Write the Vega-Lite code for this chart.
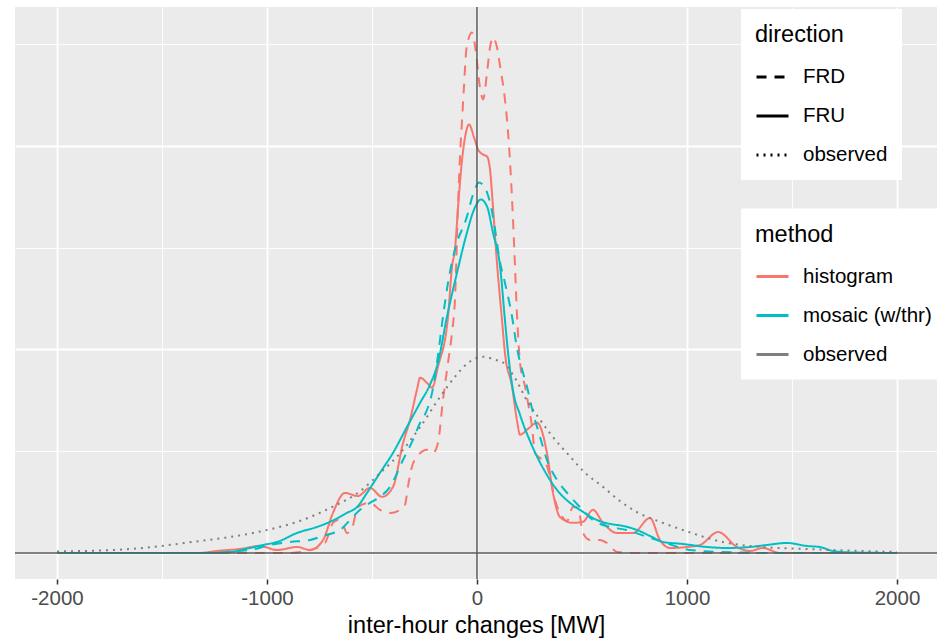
{
  "$schema": "https://vega.github.io/schema/vega-lite/v6.json",
  "width": 922,
  "height": 572,
  "autosize": {"type": "none"},
  "padding": {"left": 15, "top": 7, "right": 0, "bottom": 61},
  "background": "white",
  "data": {"values": [
    {"change": -2000, "density": 0, "method": "histogram", "direction": "FRU"},
    {"change": -1320, "density": 0, "method": "histogram", "direction": "FRU"},
    {"change": -1240, "density": 0.0000098, "method": "histogram", "direction": "FRU"},
    {"change": -1130, "density": 0.0000197, "method": "histogram", "direction": "FRU"},
    {"change": -1033, "density": 0.0000344, "method": "histogram", "direction": "FRU"},
    {"change": -952, "density": 0.0000148, "method": "histogram", "direction": "FRU"},
    {"change": -857, "density": 0.0000295, "method": "histogram", "direction": "FRU"},
    {"change": -795, "density": 0.0000148, "method": "histogram", "direction": "FRU"},
    {"change": -733, "density": 0.000064, "method": "histogram", "direction": "FRU"},
    {"change": -686, "density": 0.000197, "method": "histogram", "direction": "FRU"},
    {"change": -629, "density": 0.000295, "method": "histogram", "direction": "FRU"},
    {"change": -567, "density": 0.00028, "method": "histogram", "direction": "FRU"},
    {"change": -510, "density": 0.00032, "method": "histogram", "direction": "FRU"},
    {"change": -452, "density": 0.000276, "method": "histogram", "direction": "FRU"},
    {"change": -400, "density": 0.000325, "method": "histogram", "direction": "FRU"},
    {"change": -352, "density": 0.000541, "method": "histogram", "direction": "FRU"},
    {"change": -319, "density": 0.000654, "method": "histogram", "direction": "FRU"},
    {"change": -286, "density": 0.000802, "method": "histogram", "direction": "FRU"},
    {"change": -271, "density": 0.000861, "method": "histogram", "direction": "FRU"},
    {"change": -238, "density": 0.000836, "method": "histogram", "direction": "FRU"},
    {"change": -214, "density": 0.000812, "method": "histogram", "direction": "FRU"},
    {"change": -186, "density": 0.000915, "method": "histogram", "direction": "FRU"},
    {"change": -138, "density": 0.001161, "method": "histogram", "direction": "FRU"},
    {"change": -119, "density": 0.001407, "method": "histogram", "direction": "FRU"},
    {"change": -105, "density": 0.001491, "method": "histogram", "direction": "FRU"},
    {"change": -90, "density": 0.001702, "method": "histogram", "direction": "FRU"},
    {"change": -71, "density": 0.001934, "method": "histogram", "direction": "FRU"},
    {"change": -57, "density": 0.002042, "method": "histogram", "direction": "FRU"},
    {"change": -38, "density": 0.002106, "method": "histogram", "direction": "FRU"},
    {"change": -14, "density": 0.002042, "method": "histogram", "direction": "FRU"},
    {"change": 5, "density": 0.001983, "method": "histogram", "direction": "FRU"},
    {"change": 29, "density": 0.001958, "method": "histogram", "direction": "FRU"},
    {"change": 48, "density": 0.001948, "method": "histogram", "direction": "FRU"},
    {"change": 62, "density": 0.001884, "method": "histogram", "direction": "FRU"},
    {"change": 76, "density": 0.001702, "method": "histogram", "direction": "FRU"},
    {"change": 95, "density": 0.001427, "method": "histogram", "direction": "FRU"},
    {"change": 119, "density": 0.001146, "method": "histogram", "direction": "FRU"},
    {"change": 133, "density": 0.000984, "method": "histogram", "direction": "FRU"},
    {"change": 167, "density": 0.000817, "method": "histogram", "direction": "FRU"},
    {"change": 190, "density": 0.000654, "method": "histogram", "direction": "FRU"},
    {"change": 205, "density": 0.000581, "method": "histogram", "direction": "FRU"},
    {"change": 243, "density": 0.00061, "method": "histogram", "direction": "FRU"},
    {"change": 286, "density": 0.00064, "method": "histogram", "direction": "FRU"},
    {"change": 333, "density": 0.000492, "method": "histogram", "direction": "FRU"},
    {"change": 362, "density": 0.000295, "method": "histogram", "direction": "FRU"},
    {"change": 395, "density": 0.000177, "method": "histogram", "direction": "FRU"},
    {"change": 457, "density": 0.000148, "method": "histogram", "direction": "FRU"},
    {"change": 505, "density": 0.000153, "method": "histogram", "direction": "FRU"},
    {"change": 552, "density": 0.000212, "method": "histogram", "direction": "FRU"},
    {"change": 600, "density": 0.000148, "method": "histogram", "direction": "FRU"},
    {"change": 667, "density": 0.0000984, "method": "histogram", "direction": "FRU"},
    {"change": 743, "density": 0.0000984, "method": "histogram", "direction": "FRU"},
    {"change": 824, "density": 0.000172, "method": "histogram", "direction": "FRU"},
    {"change": 871, "density": 0.000064, "method": "histogram", "direction": "FRU"},
    {"change": 919, "density": 0.0000246, "method": "histogram", "direction": "FRU"},
    {"change": 1000, "density": 0.0000295, "method": "histogram", "direction": "FRU"},
    {"change": 1062, "density": 0.0000394, "method": "histogram", "direction": "FRU"},
    {"change": 1148, "density": 0.000103, "method": "histogram", "direction": "FRU"},
    {"change": 1238, "density": 0.0000295, "method": "histogram", "direction": "FRU"},
    {"change": 1300, "density": 0.0000098, "method": "histogram", "direction": "FRU"},
    {"change": 1362, "density": 0.0000246, "method": "histogram", "direction": "FRU"},
    {"change": 1443, "density": 0, "method": "histogram", "direction": "FRU"},
    {"change": 2000, "density": 0, "method": "histogram", "direction": "FRU"},

    {"change": -2000, "density": 0, "method": "histogram", "direction": "FRD"},
    {"change": -890, "density": 0, "method": "histogram", "direction": "FRD"},
    {"change": -795, "density": 0.0000148, "method": "histogram", "direction": "FRD"},
    {"change": -724, "density": 0.0000492, "method": "histogram", "direction": "FRD"},
    {"change": -686, "density": 0.000148, "method": "histogram", "direction": "FRD"},
    {"change": -662, "density": 0.000162, "method": "histogram", "direction": "FRD"},
    {"change": -638, "density": 0.000138, "method": "histogram", "direction": "FRD"},
    {"change": -619, "density": 0.0000984, "method": "histogram", "direction": "FRD"},
    {"change": -595, "density": 0.000123, "method": "histogram", "direction": "FRD"},
    {"change": -567, "density": 0.000226, "method": "histogram", "direction": "FRD"},
    {"change": -510, "density": 0.000246, "method": "histogram", "direction": "FRD"},
    {"change": -462, "density": 0.000212, "method": "histogram", "direction": "FRD"},
    {"change": -414, "density": 0.000197, "method": "histogram", "direction": "FRD"},
    {"change": -367, "density": 0.000212, "method": "histogram", "direction": "FRD"},
    {"change": -343, "density": 0.000236, "method": "histogram", "direction": "FRD"},
    {"change": -329, "density": 0.000325, "method": "histogram", "direction": "FRD"},
    {"change": -310, "density": 0.000423, "method": "histogram", "direction": "FRD"},
    {"change": -286, "density": 0.000472, "method": "histogram", "direction": "FRD"},
    {"change": -238, "density": 0.000507, "method": "histogram", "direction": "FRD"},
    {"change": -210, "density": 0.000492, "method": "histogram", "direction": "FRD"},
    {"change": -186, "density": 0.000541, "method": "histogram", "direction": "FRD"},
    {"change": -162, "density": 0.000753, "method": "histogram", "direction": "FRD"},
    {"change": -138, "density": 0.000935, "method": "histogram", "direction": "FRD"},
    {"change": -119, "density": 0.001082, "method": "histogram", "direction": "FRD"},
    {"change": -105, "density": 0.001245, "method": "histogram", "direction": "FRD"},
    {"change": -90, "density": 0.001722, "method": "histogram", "direction": "FRD"},
    {"change": -80, "density": 0.001968, "method": "histogram", "direction": "FRD"},
    {"change": -71, "density": 0.00213, "method": "histogram", "direction": "FRD"},
    {"change": -62, "density": 0.002293, "method": "histogram", "direction": "FRD"},
    {"change": -52, "density": 0.00246, "method": "histogram", "direction": "FRD"},
    {"change": -38, "density": 0.002534, "method": "histogram", "direction": "FRD"},
    {"change": -24, "density": 0.002558, "method": "histogram", "direction": "FRD"},
    {"change": -5, "density": 0.00246, "method": "histogram", "direction": "FRD"},
    {"change": 14, "density": 0.002288, "method": "histogram", "direction": "FRD"},
    {"change": 29, "density": 0.002229, "method": "histogram", "direction": "FRD"},
    {"change": 48, "density": 0.002362, "method": "histogram", "direction": "FRD"},
    {"change": 62, "density": 0.002485, "method": "histogram", "direction": "FRD"},
    {"change": 76, "density": 0.002534, "method": "histogram", "direction": "FRD"},
    {"change": 95, "density": 0.002485, "method": "histogram", "direction": "FRD"},
    {"change": 110, "density": 0.002391, "method": "histogram", "direction": "FRD"},
    {"change": 133, "density": 0.002229, "method": "histogram", "direction": "FRD"},
    {"change": 148, "density": 0.002066, "method": "histogram", "direction": "FRD"},
    {"change": 167, "density": 0.001737, "method": "histogram", "direction": "FRD"},
    {"change": 181, "density": 0.001407, "method": "histogram", "direction": "FRD"},
    {"change": 190, "density": 0.001181, "method": "histogram", "direction": "FRD"},
    {"change": 205, "density": 0.000935, "method": "histogram", "direction": "FRD"},
    {"change": 229, "density": 0.000817, "method": "histogram", "direction": "FRD"},
    {"change": 243, "density": 0.000738, "method": "histogram", "direction": "FRD"},
    {"change": 262, "density": 0.00062, "method": "histogram", "direction": "FRD"},
    {"change": 276, "density": 0.000492, "method": "histogram", "direction": "FRD"},
    {"change": 300, "density": 0.000467, "method": "histogram", "direction": "FRD"},
    {"change": 324, "density": 0.000448, "method": "histogram", "direction": "FRD"},
    {"change": 348, "density": 0.000374, "method": "histogram", "direction": "FRD"},
    {"change": 371, "density": 0.000261, "method": "histogram", "direction": "FRD"},
    {"change": 395, "density": 0.000197, "method": "histogram", "direction": "FRD"},
    {"change": 429, "density": 0.000157, "method": "histogram", "direction": "FRD"},
    {"change": 457, "density": 0.000226, "method": "histogram", "direction": "FRD"},
    {"change": 481, "density": 0.000221, "method": "histogram", "direction": "FRD"},
    {"change": 505, "density": 0.0000984, "method": "histogram", "direction": "FRD"},
    {"change": 538, "density": 0.000064, "method": "histogram", "direction": "FRD"},
    {"change": 586, "density": 0.000064, "method": "histogram", "direction": "FRD"},
    {"change": 619, "density": 0.0000492, "method": "histogram", "direction": "FRD"},
    {"change": 667, "density": 0.0000049, "method": "histogram", "direction": "FRD"},
    {"change": 729, "density": 0, "method": "histogram", "direction": "FRD"},
    {"change": 2000, "density": 0, "method": "histogram", "direction": "FRD"},

    {"change": -2000, "density": 0, "method": "mosaic (w/thr)", "direction": "FRD"},
    {"change": -1320, "density": 0, "method": "mosaic (w/thr)", "direction": "FRD"},
    {"change": -1080, "density": 0.0000148, "method": "mosaic (w/thr)", "direction": "FRD"},
    {"change": -986, "density": 0.0000394, "method": "mosaic (w/thr)", "direction": "FRD"},
    {"change": -890, "density": 0.0000541, "method": "mosaic (w/thr)", "direction": "FRD"},
    {"change": -795, "density": 0.000064, "method": "mosaic (w/thr)", "direction": "FRD"},
    {"change": -733, "density": 0.0000836, "method": "mosaic (w/thr)", "direction": "FRD"},
    {"change": -700, "density": 0.0000935, "method": "mosaic (w/thr)", "direction": "FRD"},
    {"change": -652, "density": 0.000113, "method": "mosaic (w/thr)", "direction": "FRD"},
    {"change": -605, "density": 0.000162, "method": "mosaic (w/thr)", "direction": "FRD"},
    {"change": -557, "density": 0.000212, "method": "mosaic (w/thr)", "direction": "FRD"},
    {"change": -510, "density": 0.000246, "method": "mosaic (w/thr)", "direction": "FRD"},
    {"change": -462, "density": 0.000276, "method": "mosaic (w/thr)", "direction": "FRD"},
    {"change": -414, "density": 0.000325, "method": "mosaic (w/thr)", "direction": "FRD"},
    {"change": -352, "density": 0.000458, "method": "mosaic (w/thr)", "direction": "FRD"},
    {"change": -305, "density": 0.000556, "method": "mosaic (w/thr)", "direction": "FRD"},
    {"change": -271, "density": 0.00064, "method": "mosaic (w/thr)", "direction": "FRD"},
    {"change": -238, "density": 0.000704, "method": "mosaic (w/thr)", "direction": "FRD"},
    {"change": -214, "density": 0.000787, "method": "mosaic (w/thr)", "direction": "FRD"},
    {"change": -186, "density": 0.000969, "method": "mosaic (w/thr)", "direction": "FRD"},
    {"change": -162, "density": 0.001161, "method": "mosaic (w/thr)", "direction": "FRD"},
    {"change": -138, "density": 0.001328, "method": "mosaic (w/thr)", "direction": "FRD"},
    {"change": -105, "density": 0.001491, "method": "mosaic (w/thr)", "direction": "FRD"},
    {"change": -48, "density": 0.001653, "method": "mosaic (w/thr)", "direction": "FRD"},
    {"change": -19, "density": 0.001761, "method": "mosaic (w/thr)", "direction": "FRD"},
    {"change": 10, "density": 0.00182, "method": "mosaic (w/thr)", "direction": "FRD"},
    {"change": 48, "density": 0.001771, "method": "mosaic (w/thr)", "direction": "FRD"},
    {"change": 76, "density": 0.001653, "method": "mosaic (w/thr)", "direction": "FRD"},
    {"change": 110, "density": 0.001427, "method": "mosaic (w/thr)", "direction": "FRD"},
    {"change": 133, "density": 0.001328, "method": "mosaic (w/thr)", "direction": "FRD"},
    {"change": 167, "density": 0.001161, "method": "mosaic (w/thr)", "direction": "FRD"},
    {"change": 190, "density": 0.001009, "method": "mosaic (w/thr)", "direction": "FRD"},
    {"change": 219, "density": 0.000886, "method": "mosaic (w/thr)", "direction": "FRD"},
    {"change": 238, "density": 0.000817, "method": "mosaic (w/thr)", "direction": "FRD"},
    {"change": 267, "density": 0.000689, "method": "mosaic (w/thr)", "direction": "FRD"},
    {"change": 300, "density": 0.000571, "method": "mosaic (w/thr)", "direction": "FRD"},
    {"change": 333, "density": 0.000458, "method": "mosaic (w/thr)", "direction": "FRD"},
    {"change": 381, "density": 0.000359, "method": "mosaic (w/thr)", "direction": "FRD"},
    {"change": 429, "density": 0.000295, "method": "mosaic (w/thr)", "direction": "FRD"},
    {"change": 490, "density": 0.000226, "method": "mosaic (w/thr)", "direction": "FRD"},
    {"change": 552, "density": 0.000162, "method": "mosaic (w/thr)", "direction": "FRD"},
    {"change": 633, "density": 0.000128, "method": "mosaic (w/thr)", "direction": "FRD"},
    {"change": 714, "density": 0.000113, "method": "mosaic (w/thr)", "direction": "FRD"},
    {"change": 810, "density": 0.0000787, "method": "mosaic (w/thr)", "direction": "FRD"},
    {"change": 886, "density": 0.0000541, "method": "mosaic (w/thr)", "direction": "FRD"},
    {"change": 1014, "density": 0.0000148, "method": "mosaic (w/thr)", "direction": "FRD"},
    {"change": 1171, "density": 0.0000049, "method": "mosaic (w/thr)", "direction": "FRD"},
    {"change": 1400, "density": 0, "method": "mosaic (w/thr)", "direction": "FRD"},
    {"change": 2000, "density": 0, "method": "mosaic (w/thr)", "direction": "FRD"},

    {"change": -2000, "density": 0, "method": "mosaic (w/thr)", "direction": "FRU"},
    {"change": -1270, "density": 0, "method": "mosaic (w/thr)", "direction": "FRU"},
    {"change": -1176, "density": 0.0000049, "method": "mosaic (w/thr)", "direction": "FRU"},
    {"change": -1081, "density": 0.0000246, "method": "mosaic (w/thr)", "direction": "FRU"},
    {"change": -1019, "density": 0.0000394, "method": "mosaic (w/thr)", "direction": "FRU"},
    {"change": -952, "density": 0.0000541, "method": "mosaic (w/thr)", "direction": "FRU"},
    {"change": -857, "density": 0.0000984, "method": "mosaic (w/thr)", "direction": "FRU"},
    {"change": -762, "density": 0.000128, "method": "mosaic (w/thr)", "direction": "FRU"},
    {"change": -700, "density": 0.000153, "method": "mosaic (w/thr)", "direction": "FRU"},
    {"change": -619, "density": 0.000197, "method": "mosaic (w/thr)", "direction": "FRU"},
    {"change": -571, "density": 0.000226, "method": "mosaic (w/thr)", "direction": "FRU"},
    {"change": -524, "density": 0.000295, "method": "mosaic (w/thr)", "direction": "FRU"},
    {"change": -462, "density": 0.000394, "method": "mosaic (w/thr)", "direction": "FRU"},
    {"change": -400, "density": 0.000492, "method": "mosaic (w/thr)", "direction": "FRU"},
    {"change": -333, "density": 0.00062, "method": "mosaic (w/thr)", "direction": "FRU"},
    {"change": -271, "density": 0.000738, "method": "mosaic (w/thr)", "direction": "FRU"},
    {"change": -224, "density": 0.000827, "method": "mosaic (w/thr)", "direction": "FRU"},
    {"change": -186, "density": 0.000935, "method": "mosaic (w/thr)", "direction": "FRU"},
    {"change": -143, "density": 0.001161, "method": "mosaic (w/thr)", "direction": "FRU"},
    {"change": -95, "density": 0.001378, "method": "mosaic (w/thr)", "direction": "FRU"},
    {"change": -48, "density": 0.001574, "method": "mosaic (w/thr)", "direction": "FRU"},
    {"change": -14, "density": 0.001688, "method": "mosaic (w/thr)", "direction": "FRU"},
    {"change": 19, "density": 0.001737, "method": "mosaic (w/thr)", "direction": "FRU"},
    {"change": 48, "density": 0.001702, "method": "mosaic (w/thr)", "direction": "FRU"},
    {"change": 76, "density": 0.001574, "method": "mosaic (w/thr)", "direction": "FRU"},
    {"change": 110, "density": 0.001407, "method": "mosaic (w/thr)", "direction": "FRU"},
    {"change": 133, "density": 0.001146, "method": "mosaic (w/thr)", "direction": "FRU"},
    {"change": 148, "density": 0.000984, "method": "mosaic (w/thr)", "direction": "FRU"},
    {"change": 171, "density": 0.000802, "method": "mosaic (w/thr)", "direction": "FRU"},
    {"change": 205, "density": 0.000679, "method": "mosaic (w/thr)", "direction": "FRU"},
    {"change": 252, "density": 0.000551, "method": "mosaic (w/thr)", "direction": "FRU"},
    {"change": 314, "density": 0.000418, "method": "mosaic (w/thr)", "direction": "FRU"},
    {"change": 381, "density": 0.00031, "method": "mosaic (w/thr)", "direction": "FRU"},
    {"change": 443, "density": 0.000246, "method": "mosaic (w/thr)", "direction": "FRU"},
    {"change": 505, "density": 0.000202, "method": "mosaic (w/thr)", "direction": "FRU"},
    {"change": 571, "density": 0.000162, "method": "mosaic (w/thr)", "direction": "FRU"},
    {"change": 633, "density": 0.000143, "method": "mosaic (w/thr)", "direction": "FRU"},
    {"change": 695, "density": 0.000133, "method": "mosaic (w/thr)", "direction": "FRU"},
    {"change": 762, "density": 0.000113, "method": "mosaic (w/thr)", "direction": "FRU"},
    {"change": 824, "density": 0.0000836, "method": "mosaic (w/thr)", "direction": "FRU"},
    {"change": 886, "density": 0.0000541, "method": "mosaic (w/thr)", "direction": "FRU"},
    {"change": 981, "density": 0.0000443, "method": "mosaic (w/thr)", "direction": "FRU"},
    {"change": 1095, "density": 0.0000295, "method": "mosaic (w/thr)", "direction": "FRU"},
    {"change": 1190, "density": 0.0000246, "method": "mosaic (w/thr)", "direction": "FRU"},
    {"change": 1300, "density": 0.0000295, "method": "mosaic (w/thr)", "direction": "FRU"},
    {"change": 1381, "density": 0.0000394, "method": "mosaic (w/thr)", "direction": "FRU"},
    {"change": 1476, "density": 0.0000492, "method": "mosaic (w/thr)", "direction": "FRU"},
    {"change": 1571, "density": 0.0000344, "method": "mosaic (w/thr)", "direction": "FRU"},
    {"change": 1633, "density": 0.0000295, "method": "mosaic (w/thr)", "direction": "FRU"},
    {"change": 1695, "density": 0.0000098, "method": "mosaic (w/thr)", "direction": "FRU"},
    {"change": 1790, "density": 0.0000025, "method": "mosaic (w/thr)", "direction": "FRU"},
    {"change": 2000, "density": 0, "method": "mosaic (w/thr)", "direction": "FRU"},

    {"change": -2000, "density": 0.0000074, "method": "observed", "direction": "observed"},
    {"change": -1650, "density": 0.0000197, "method": "observed", "direction": "observed"},
    {"change": -1320, "density": 0.000059, "method": "observed", "direction": "observed"},
    {"change": -1175, "density": 0.0000787, "method": "observed", "direction": "observed"},
    {"change": -1000, "density": 0.000113, "method": "observed", "direction": "observed"},
    {"change": -845, "density": 0.000157, "method": "observed", "direction": "observed"},
    {"change": -700, "density": 0.000221, "method": "observed", "direction": "observed"},
    {"change": -555, "density": 0.000305, "method": "observed", "direction": "observed"},
    {"change": -460, "density": 0.000394, "method": "observed", "direction": "observed"},
    {"change": -365, "density": 0.000492, "method": "observed", "direction": "observed"},
    {"change": -270, "density": 0.00062, "method": "observed", "direction": "observed"},
    {"change": -175, "density": 0.000768, "method": "observed", "direction": "observed"},
    {"change": -105, "density": 0.000866, "method": "observed", "direction": "observed"},
    {"change": -35, "density": 0.00094, "method": "observed", "direction": "observed"},
    {"change": 30, "density": 0.000964, "method": "observed", "direction": "observed"},
    {"change": 85, "density": 0.00095, "method": "observed", "direction": "observed"},
    {"change": 125, "density": 0.000935, "method": "observed", "direction": "observed"},
    {"change": 180, "density": 0.000861, "method": "observed", "direction": "observed"},
    {"change": 240, "density": 0.000745, "method": "observed", "direction": "observed"},
    {"change": 285, "density": 0.000677, "method": "observed", "direction": "observed"},
    {"change": 350, "density": 0.000585, "method": "observed", "direction": "observed"},
    {"change": 445, "density": 0.000472, "method": "observed", "direction": "observed"},
    {"change": 515, "density": 0.000394, "method": "observed", "direction": "observed"},
    {"change": 600, "density": 0.000325, "method": "observed", "direction": "observed"},
    {"change": 680, "density": 0.000256, "method": "observed", "direction": "observed"},
    {"change": 760, "density": 0.000202, "method": "observed", "direction": "observed"},
    {"change": 885, "density": 0.000148, "method": "observed", "direction": "observed"},
    {"change": 980, "density": 0.000113, "method": "observed", "direction": "observed"},
    {"change": 1170, "density": 0.0000541, "method": "observed", "direction": "observed"},
    {"change": 1300, "density": 0.0000344, "method": "observed", "direction": "observed"},
    {"change": 1570, "density": 0.0000197, "method": "observed", "direction": "observed"},
    {"change": 2000, "density": 0.0000049, "method": "observed", "direction": "observed"}
  ]},
  "layer": [
    {
      "mark": {"type": "line", "strokeWidth": 2, "interpolate": "monotone", "clip": true},
      "encoding": {
        "x": {
          "field": "change", "type": "quantitative",
          "scale": {"domain": [-2200, 2190.5], "nice": false, "zero": false},
          "axis": {
            "title": "inter-hour changes [MW]",
            "values": [-2000, -1000, 0, 1000, 2000],
            "labelExpr": "'' + datum.value",
            "grid": true, "gridColor": "white", "gridWidth": 1.8,
            "domain": false,
            "ticks": true, "tickColor": "#333333", "tickSize": 5, "tickWidth": 1.5,
            "labelFontSize": 20.5, "labelColor": "#4D4D4D", "labelPadding": 4,
            "titleFontSize": 23.5, "titleFontWeight": "normal", "titleColor": "#000000", "titlePadding": 5
          }
        },
        "y": {
          "field": "density", "type": "quantitative",
          "scale": {"domain": [-0.0001278, 0.002683], "nice": false, "zero": false},
          "axis": {
            "title": null,
            "values": [0, 0.001, 0.002],
            "grid": true, "gridColor": "white", "gridWidth": 1.8,
            "labels": false, "ticks": false, "domain": false
          }
        },
        "color": {
          "field": "method", "type": "nominal",
          "scale": {"domain": ["histogram", "mosaic (w/thr)", "observed"], "range": ["#F8766D", "#00BFC4", "#7F7F7F"]},
          "legend": {"title": "method", "orient": "none", "legendX": 726, "legendY": 201.5, "symbolDash": [1, 0], "symbolType": "stroke"}
        },
        "strokeDash": {
          "field": "direction", "type": "nominal",
          "scale": {"domain": ["FRD", "FRU", "observed"], "range": [[10, 8], [1, 0], [2, 5]]},
          "legend": {"title": "direction", "orient": "none", "legendX": 726, "legendY": 2, "symbolStrokeColor": "#000000", "symbolType": "stroke"}
        }
      }
    },
    {
      "data": {"values": [{"v": 0}]},
      "mark": {"type": "rule", "color": "#595959", "strokeWidth": 1.5},
      "encoding": {
        "x": {
          "field": "v", "type": "quantitative",
          "axis": {
            "title": null,
            "values": [-1500, -500, 500, 1500],
            "grid": true, "gridColor": "white", "gridWidth": 0.9,
            "labels": false, "ticks": false, "domain": false
          }
        }
      }
    },
    {
      "data": {"values": [{"v": 0}]},
      "mark": {"type": "rule", "color": "#595959", "strokeWidth": 1.5},
      "encoding": {
        "y": {
          "field": "v", "type": "quantitative",
          "axis": {
            "title": null,
            "values": [0.0005, 0.0015, 0.0025],
            "grid": true, "gridColor": "white", "gridWidth": 0.9,
            "labels": false, "ticks": false, "domain": false
          }
        }
      }
    }
  ],
  "resolve": {"axis": {"x": "independent", "y": "independent"}},
  "config": {
    "font": "Liberation Sans",
    "view": {"fill": "#EBEBEB", "stroke": null},
    "legend": {
      "fillColor": "white",
      "padding": 14,
      "titleFontSize": 23.5,
      "titleFontWeight": "normal",
      "titleColor": "#000000",
      "labelFontSize": 20.5,
      "labelColor": "#000000",
      "symbolSize": 1024,
      "symbolStrokeWidth": 3,
      "rowPadding": 11,
      "titlePadding": 13,
      "labelOffset": 13,
      "cornerRadius": 0
    }
  }
}
